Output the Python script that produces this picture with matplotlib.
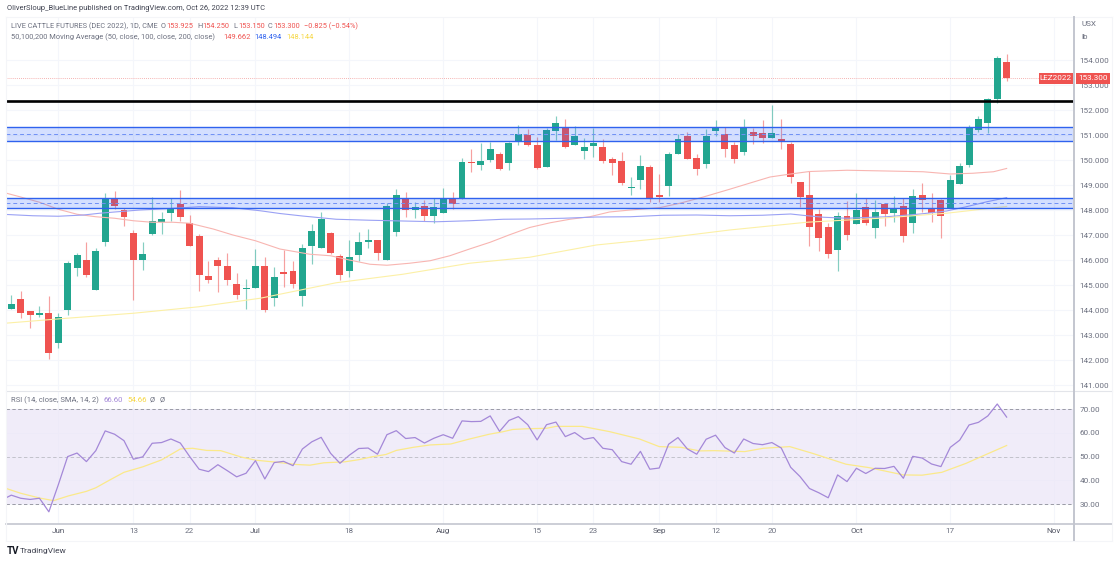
import matplotlib
matplotlib.use("Agg")
import matplotlib.pyplot as plt
from matplotlib.lines import Line2D

W, H = 1120, 563
plt.rcParams['font.family'] = ['Roboto', 'DejaVu Sans']

opens = [144.03,144.45,143.97,143.79,143.87,142.69,144.00,145.67,146.00,144.79,146.72,148.45,147.99,147.08,146.01,147.05,147.53,147.87,148.24,147.47,
         146.97,145.37,146.00,145.75,145.05,144.83,144.87,145.75,144.47,145.51,145.55,144.57,146.57,146.47,147.08,146.15,145.56,146.21,146.72,146.79,
         146.01,147.12,148.48,148.01,148.16,147.75,147.87,148.48,148.43,149.92,149.81,150.00,150.25,149.88,150.75,150.99,150.60,149.71,151.17,151.31,
         150.60,150.37,150.57,150.51,150.05,149.97,148.87,149.20,149.73,148.59,148.97,150.23,150.96,150.08,149.84,151.17,151.04,150.59,150.32,151.11,
         151.08,150.89,150.83,150.64,149.13,148.59,147.83,147.31,146.39,147.77,147.45,148.13,147.29,148.24,147.89,148.16,147.48,148.59,148.09,148.39,
         148.09,149.03,149.80,151.20,151.48,152.44,153.925]
highs = [144.60,144.76,143.97,144.17,144.56,143.87,145.96,146.27,146.73,146.47,148.69,148.76,148.08,147.19,146.72,148.53,147.93,148.48,148.81,147.79,
         147.03,145.96,146.12,146.27,145.48,145.24,146.43,146.12,145.71,146.40,145.96,146.63,147.44,147.93,147.13,146.23,146.79,147.12,147.25,146.79,
         148.27,148.85,148.73,148.33,148.39,148.47,148.87,148.72,150.07,150.43,150.69,150.72,150.32,150.72,151.40,151.24,150.91,151.27,151.77,151.63,
         151.36,150.87,151.27,150.83,150.11,150.33,149.31,150.21,149.79,149.44,150.33,151.04,151.13,150.23,151.23,151.60,151.31,150.71,151.64,151.27,
         151.60,152.21,151.63,150.73,149.13,149.57,148.03,147.47,147.92,148.35,148.67,148.49,148.40,148.27,148.56,148.47,148.85,149.07,148.67,148.43,
         149.39,149.89,151.40,151.75,152.48,154.17,154.25]
lows = [144.03,143.69,143.29,143.71,142.03,142.49,143.81,145.36,145.31,144.79,146.56,148.05,147.37,144.39,145.61,146.99,147.04,147.56,147.56,146.55,
        144.76,145.09,144.73,145.01,144.44,144.05,144.87,143.93,144.17,144.93,144.87,144.16,145.85,146.47,146.23,145.21,145.33,145.97,146.49,145.99,
        146.01,146.97,147.73,147.68,147.56,147.47,147.87,148.05,148.43,149.51,149.60,149.93,149.60,149.60,150.60,150.56,149.63,149.71,150.80,150.47,
        150.60,150.03,150.13,149.87,149.39,149.01,148.60,148.84,148.33,148.33,148.56,150.23,150.03,149.40,149.69,150.96,150.11,149.87,150.19,150.63,
        150.69,150.89,150.43,149.09,148.13,146.56,146.37,146.07,145.57,146.80,147.45,147.40,146.89,147.36,147.52,146.72,147.09,147.93,147.53,146.89,
        148.09,149.03,149.72,151.13,151.08,152.27,153.15]
closes = [144.23,143.89,143.79,143.87,142.29,143.72,145.87,146.20,145.41,146.35,148.45,148.17,147.72,146.01,146.23,147.57,147.65,148.05,147.72,146.55,
          145.41,145.21,145.77,145.21,144.60,144.87,145.75,144.01,145.32,145.44,145.04,146.48,147.17,147.63,146.27,145.39,146.12,146.72,146.79,146.29,
          148.16,148.60,148.01,148.13,147.75,148.13,148.48,148.24,149.93,149.87,149.96,150.43,149.63,150.69,151.05,150.60,149.69,151.19,151.48,150.52,
          150.96,150.51,150.67,149.97,149.88,149.08,148.91,149.77,148.47,148.52,150.23,150.85,150.04,149.63,150.96,151.32,150.43,150.03,151.29,150.96,
          150.88,151.07,150.73,149.32,148.51,147.32,146.87,146.25,147.76,147.01,148.00,147.48,147.91,147.85,148.03,146.97,148.56,148.41,147.89,147.75,
          149.19,149.76,151.33,151.65,152.43,154.09,153.30]

ma50_x = [-1,0.9,3,5,7,9,11,13,15,17.2,19,21.5,23.6,26,28.6,31.8,34,36,38.2,40,42.4,44.6,46.7,48.8,51,53,55.2,57.4,59.5,61.6,63.7,65.9,69,71.2,73.7,76.5,78.6,80.8,83,85,89,93.2,97.1,100,102.4,104.6,106]
ma50_y = [148.72,148.53,148.31,148.03,147.83,147.73,147.67,147.57,147.51,147.51,147.47,147.24,147.00,146.77,146.44,146.23,146.17,146.00,145.83,145.79,145.87,145.97,146.17,146.44,146.71,147.00,147.30,147.49,147.63,147.73,147.92,148.00,148.09,148.27,148.52,148.83,149.07,149.32,149.44,149.54,149.59,149.56,149.53,149.44,149.47,149.53,149.662]
ma100_x = [-1,2.3,5,7.7,9.4,11,13.7,16.5,20,23.6,26.5,28.6,31,34.6,38.2,41.7,45.3,48.8,52.4,55.2,58.8,62.3,65.9,69.4,73,76.5,80,83,84.5,86.5,89,93.2,96.8,99.6,101.7,103.9,106]
ma100_y = [147.83,147.77,147.75,147.80,147.87,147.92,148.00,148.05,148.13,148.09,147.97,147.86,147.76,147.63,147.59,147.56,147.53,147.57,147.63,147.64,147.67,147.72,147.73,147.79,147.80,147.77,147.79,147.84,147.78,147.71,147.67,147.73,147.84,147.96,148.13,148.33,148.494]
ma200_x = [-1,5.9,13,20,26.5,34.6,41.7,48.8,55.2,62.3,69.4,76.5,84.7,92.5,99.6,106]
ma200_y = [143.46,143.67,143.87,144.13,144.47,145.09,145.43,145.87,146.11,146.60,146.87,147.20,147.51,147.67,147.87,148.144]

rsi = [31.8,33.8,32.5,32.0,32.5,26.8,38.1,50.0,51.5,47.9,52.5,60.8,59.4,56.7,48.9,49.9,55.6,55.9,57.4,55.7,50.0,
       44.7,43.7,46.6,44.1,41.5,43.0,48.3,40.6,47.5,48.0,46.2,53.2,56.2,58.1,51.4,47.2,50.6,53.4,53.6,51.0,
       59.2,60.9,57.6,58.0,55.7,57.7,59.2,57.7,65.0,64.7,64.8,67.1,60.6,65.2,66.8,63.4,57.0,63.4,64.5,58.4,60.1,
       57.3,58.0,53.5,52.9,47.9,46.8,52.2,44.7,45.2,55.2,58.0,53.2,51.0,57.3,59.0,53.8,51.5,57.4,55.5,55.0,55.9,
       53.6,45.5,41.6,36.6,34.8,32.7,42.3,39.5,45.1,42.9,45.1,45.0,45.9,40.9,50.1,49.4,46.9,45.8,53.9,56.9,63.3,64.4,67.1,72.1,66.60]
rsi_x_start = -1
rsi_ma_x = [-1,1,3,4.5,6.1,8,9,10.5,12,14,16,18,19.3,20.8,22.3,24.5,26,28.1,30.3,31.8,33.3,35.5,37,38.4,39.9,41,42.8,44.6,46.8,48.7,50.9,52.3,53.4,54.9,57,58,60.8,63.7,66.9,69,71.3,73.3,74.9,78.1,80.1,82.9,85.3,88.9,91.3,95,97,99.1,101.7,103.7,106]
rsi_ma_y = [37.2,34.6,32.6,31.5,33.5,35.4,36.9,40.2,43.4,45.7,48.6,53.2,53.5,52.6,52.5,49.8,48.5,47.7,46.7,46.4,47.4,47.8,48.7,49.9,50.9,52.6,53.9,54.9,55.3,57.3,59.4,60.4,61.4,61.7,61.9,62.7,62.7,60.5,57.4,54.2,53.9,52.4,52.5,52.1,53.5,54.2,51.4,46.8,45.4,42.3,42.2,43.4,47.2,50.7,54.66]

zone_upper = (150.76, 151.32, 151.03)
zone_lower = (148.08, 148.48, 148.29)
resistance = 152.35
last_price = 153.30
price_ticks = list(range(141, 155))
rsi_ticks = [30, 40, 50, 60, 70]
time_idx = [5, 13, 19, 26, 36, 46, 56, 62, 69, 75, 81, 90, 100, 111]
time_labels = ['Jun', '13', '22', 'Jul', '18', 'Aug', '15', '23', 'Sep', '12', '20', 'Oct', '17', 'Nov']
months = {'Jun', 'Jul', 'Aug', 'Sep', 'Oct', 'Nov'}

UP, DOWN = '#22a68f', '#ef5350'
GRID = '#f4f6fb'
TXT = '#6d7180'
AXIS = '#c3c6cf'
BLUE = '#2f62ee'
FRAME = '#f4f5f8'

PL, PR, PT, PB = 6, 1073.5, 17, 390
RT, RB = 391, 523.5
BASE = 11.3
STEP = 9.39
XLIM = ((PL - BASE) / STEP, (PR - BASE) / STEP)


def rect(l, t, r, b):
    return [l / W, 1 - b / H, (r - l) / W, (b - t) / H]


def fx(x):
    return x / W


def fy(y):
    return 1 - y / H


fig = plt.figure(figsize=(W / 100, H / 100), dpi=100, facecolor='white')
ax = fig.add_axes(rect(PL, PT, PR, PB))
ar = fig.add_axes(rect(PL, RT, PR, RB))

idx = list(range(len(opens)))
for a in (ax, ar):
    a.set_xlim(*XLIM)
    a.set_xticks(time_idx)
    a.grid(True, color=GRID, lw=0.8)
    a.set_axisbelow(True)
    for s in a.spines.values():
        s.set_visible(False)
    a.tick_params(length=0)

# price pane
ax.set_ylim(154 - (PB - 60) / 25, 154 - (PT - 60) / 25)
ax.set_yticks(price_ticks)
ax.yaxis.tick_right()
ax.set_yticklabels([f'{p}.000' for p in price_ticks], fontsize=5.9, color=TXT)
ax.tick_params(axis='y', pad=4.5)
ax.set_xticklabels([])

cols = [UP if c >= o else DOWN for o, c in zip(opens, closes)]
ax.vlines(idx, lows, highs, colors=cols, lw=0.85, alpha=0.55, zorder=2)
ax.bar(idx, [max(abs(c - o), 0.05) for o, c in zip(opens, closes)],
       bottom=[min(o, c) for o, c in zip(opens, closes)],
       width=0.74, color=cols, lw=0, zorder=3)

ax.plot(ma50_x, ma50_y, color='#f8b5b1', lw=0.8, zorder=4)
ax.plot(ma100_x, ma100_y, color='#9aa1f4', lw=0.8, zorder=4)
ax.plot(ma200_x, ma200_y, color='#fcf0a6', lw=0.8, zorder=4)

for lo, hi, mid in (zone_upper, zone_lower):
    ax.axhspan(lo, hi, color='#2962ff', alpha=0.2, lw=0, zorder=5)
    ax.axhline(lo, color=BLUE, lw=1.0, zorder=6)
    ax.axhline(hi, color=BLUE, lw=1.0, zorder=6)
    ax.axhline(mid, color='#6f90f5', lw=0.7, ls=(0, (4, 3)), zorder=6)
ax.axhline(resistance, color='black', lw=1.9, zorder=6)
ax.axhline(last_price, color='#f29a98', lw=0.6, ls=(0, (1, 1.5)), zorder=1)

# rsi pane
ar.set_ylim(70 - (RB - 409) / 2.38, 70 + (409 - RT) / 2.38)
ar.set_yticks(rsi_ticks)
ar.yaxis.tick_right()
ar.set_yticklabels([f'{v}.00' for v in rsi_ticks], fontsize=5.9, color=TXT)
ar.tick_params(axis='y', pad=4.5)
ar.axhspan(30, 70, color='#ebe5f7', alpha=0.7, lw=0, zorder=1)
for v in (30, 50, 70):
    ar.axhline(v, color='#9a9ba6' if v != 50 else '#c2c2cb', lw=0.7, ls=(0, (3.5, 2.5)), zorder=2)
ar.plot(range(rsi_x_start, rsi_x_start + len(rsi)), rsi, color='#a488d8', lw=0.9, zorder=4)
ar.plot(rsi_ma_x, rsi_ma_y, color='#fbe98a', lw=0.9, zorder=3)
ar.set_xticklabels(time_labels, fontsize=5.9, color=TXT)
for lab, name in zip(ar.get_xticklabels(), time_labels):
    if name in months:
        lab.set_color('#555866')
ar.tick_params(axis='x', pad=3.5)

# chrome
for xs, ys, c, lw in [
    ([PL, 1112], [390.5, 390.5], '#e3e5ea', 0.8),
    ([PL, 1112], [523.5, 523.5], AXIS, 1.2),
    ([PL, 1112], [540.5, 540.5], FRAME, 0.8),
    ([PL, 1112], [16.5, 16.5], FRAME, 0.8),
    ([1074, 1074], [16.5, 540], AXIS, 1.4),
    ([6, 6], [16.5, 540], FRAME, 0.8),
    ([1112, 1112], [16.5, 540], FRAME, 0.8),
]:
    fig.add_artist(Line2D([fx(v) for v in xs], [fy(v) for v in ys], color=c, lw=lw))


def label(x, y, s, color=TXT, size=5.9, **kw):
    fig.text(fx(x), fy(y), s, color=color, fontsize=size, va='center', ha='left', **kw)


label(7, 8.5, 'OliverSloup_BlueLine published on TradingView.com, Oct 26, 2022 12:39 UTC', color='#3f4250', size=5.4)
label(11, 26, 'LIVE CATTLE FUTURES (DEC 2022), 1D, CME', size=5.35)
for x, k, v in [(161, 'O', '153.925'), (197, 'H', '154.250'), (233, 'L', '153.150'), (268, 'C', '153.300')]:
    label(x, 26, k, size=5.35)
    label(x + 5, 26, v, color=DOWN, size=5.35)
label(304, 26, '−0.825 (−0.54%)', color=DOWN, size=5.35)
label(11, 37, '50,100,200 Moving Average (50, close, 100, close, 200, close)', size=5.45)
label(223, 37, '149.662', color=DOWN, size=5.45)
label(254, 37, '148.494', color=BLUE, size=5.45)
label(286, 37, '148.144', color='#f6d743', size=5.45)
label(11, 400, 'RSI (14, close, SMA, 14, 2)', size=5.5)
label(104, 400, '66.60', color='#a488d8', size=5.6)
label(127, 400, '54.66', color='#f6d743', size=5.6)
label(150, 400, 'Ø', size=5.4)
label(160, 400, 'Ø', size=5.4)
label(1081, 24, 'USX', size=5.9)
label(1081, 37, 'lb', size=5.9)
label(7, 551.5, 'TV', color='#131722', size=7, fontweight='bold')
label(20, 551.5, 'TradingView', color='#3f4250', size=6)

for l, r, s in [(1038.5, 1073, 'LEZ2022'), (1075.5, 1110, '153.300')]:
    fig.patches.append(plt.Rectangle((fx(l), fy(83.5)), (r - l) / W, 10.5 / H, transform=fig.transFigure, fc=DOWN, ec='none', zorder=8))
    fig.text(fx((l + r) / 2), fy(78.3), s, color='white', fontsize=5.9, va='center', ha='center', zorder=9)

fig.savefig('out.png', dpi=100)
